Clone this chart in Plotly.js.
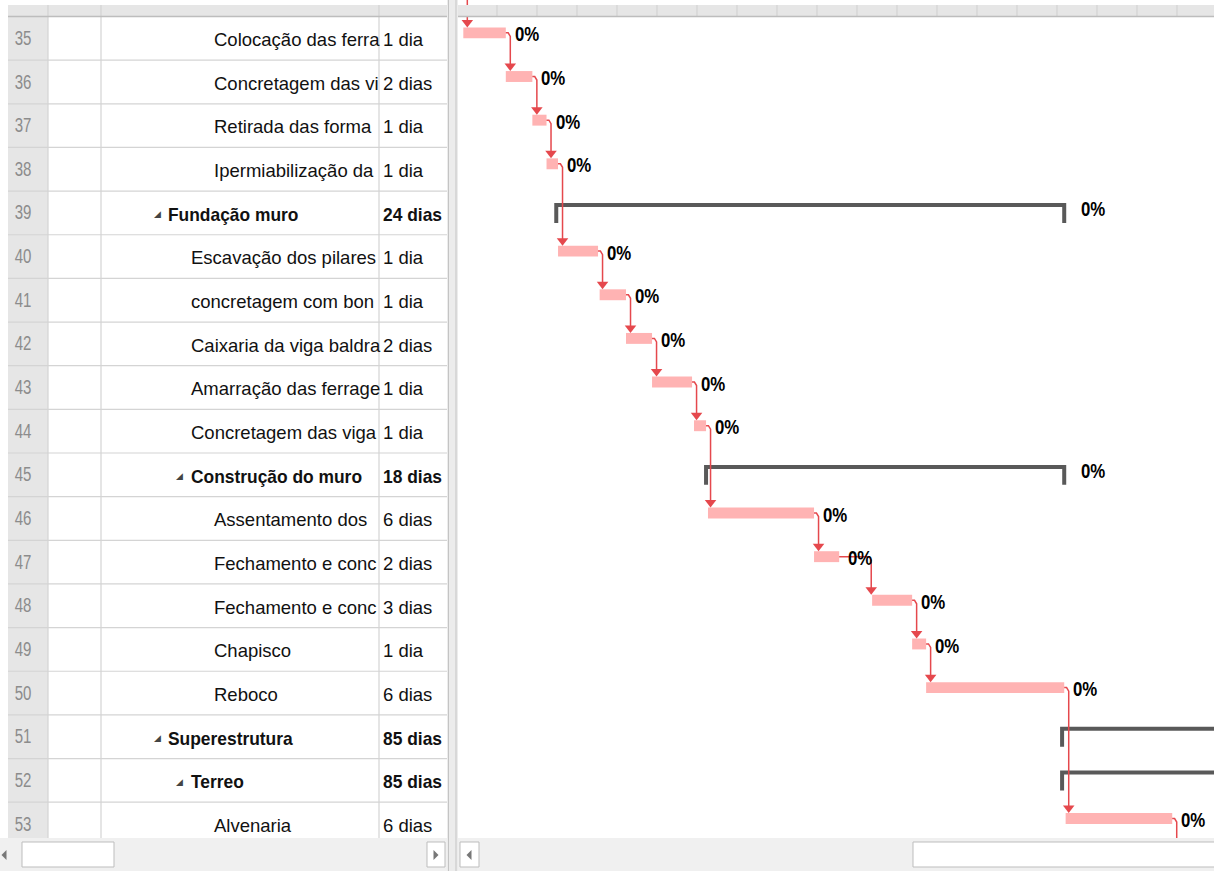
<!DOCTYPE html>
<html><head><meta charset="utf-8">
<script src="https://cdn.plot.ly/plotly-3.0.1.min.js"></script>
<style>html,body{margin:0;padding:0;background:#fff;overflow:hidden}#chart{width:1214px;height:871px}</style>
</head><body><div id="chart"></div>
<script>
// ---------------- data ----------------
const rowIds = [35,36,37,38,39,40,41,42,43,44,45,46,47,48,49,50,51,52,53];
const taskNames = ["Colocação das ferra","Concretagem das vi","Retirada das forma","Ipermiabilização da",
  "Fundação muro","Escavação dos pilares","concretagem com bon","Caixaria da viga baldra",
  "Amarração das ferrage","Concretagem das viga","Construção do muro","Assentamento dos",
  "Fechamento e conc","Fechamento e conc","Chapisco","Reboco","Superestrutura","Terreo","Alvenaria"];
const durations = ["1 dia","2 dias","1 dia","1 dia","24 dias","1 dia","1 dia","2 dias","1 dia","1 dia",
  "18 dias","6 dias","2 dias","3 dias","1 dia","6 dias","85 dias","85 dias","6 dias"];
const outlineLevel = [4,4,4,4,2,3,3,3,3,3,3,4,4,4,4,4,2,3,4];
const isSummary = [0,0,0,0,1,0,0,0,0,0,1,0,0,0,0,0,1,1,0];
// start / finish in days from the left edge of the visible timeline
const startDay  = [0.3,2.7,4.2,5.0,5.55,5.65,8.0,9.49,10.96,13.33,14.01,14.12,20.11,23.39,25.65,26.44,34.12,34.12,34.32];
const finishDay = [2.7,4.2,5.0,5.65,34.24,7.91,9.49,10.96,13.22,14.01,34.24,20.11,21.53,25.65,26.44,34.24,130,130,40.34];
const pctComplete = [0,0,0,0,0,0,0,0,0,0,0,0,0,0,0,0,0,0,0];
const links = [[35,36],[36,37],[37,38],[38,40],[40,41],[41,42],[42,43],[43,44],[44,46],
  [46,47],[47,48],[48,49],[49,50],[50,53]];
const timelineDays = 42.7;

// ---------------- layout helpers ----------------
const W = 1214, H = 871;
const ROW_PX = 43.65, ROW0 = 34.122;          // y value at top pixel
const px = x => x / W, py = y => 1 - y / H;
const FONT = "'Liberation Sans', Arial, sans-serif";
const BAR = '#FFB3B3', LINK = '#E5484D', SUMC = '#595959', GRID = '#D4D4D4';
const idx = r => rowIds.indexOf(r);

const shapes = [], annotations = [], squeeze = [];
function addText(a, k) { annotations.push(a); squeeze.push(k); }
function rectPx(x0, y0, x1, y1, fill, line, layer) {
  shapes.push({type:'rect', xref:'paper', yref:'paper', x0:px(x0), x1:px(x1), y0:py(y0), y1:py(y1),
    fillcolor:fill, line:line ? {color:line, width:1} : {width:0}, layer:layer || 'above'});
}
function linePx(x0, y0, x1, y1, color, w, layer) {
  shapes.push({type:'line', xref:'paper', yref:'paper', x0:px(x0), x1:px(x1), y0:py(y0), y1:py(y1),
    line:{color:color, width:w || 1}, layer:layer || 'above'});
}
function triPx(cx, cy, dir, size, color) {
  const s = size;
  let pts;
  if (dir === 'left') pts = [[cx + s/2, cy - s], [cx + s/2, cy + s], [cx - s/2, cy]];
  else pts = [[cx - s/2, cy - s], [cx - s/2, cy + s], [cx + s/2, cy]];
  const d = 'M' + pts.map(p => px(p[0]) + ',' + py(p[1])).join(' L') + ' Z';
  shapes.push({type:'path', xref:'paper', yref:'paper', path:d, fillcolor:color, line:{width:0}, layer:'above'});
}

// ---------------- table ----------------
const TABLE_L = 8, TABLE_R = 447, BODY_TOP = 17, BODY_BOT = 840;
rectPx(TABLE_L, BODY_TOP, 48, BODY_BOT, '#E6E6E6', null, 'below');
rowIds.forEach(r => {
  shapes.push({type:'line', xref:'paper', yref:'y', x0:px(TABLE_L), x1:px(TABLE_R), y0:r + 0.5, y1:r + 0.5,
    line:{color:GRID, width:1.2}, layer:'below'});
});
[48, 101, 379].forEach(x => linePx(x, 5, x, BODY_BOT, GRID, 1.2, 'below'));

const indentPx = {2:168, 3:190, 4:213};
const TXT = 18.5;
rowIds.forEach((r, i) => {
  const bold = !!isSummary[i];
  addText({xref:'paper', yref:'y', x:px(22.5), y:r - 0.01, text:String(r), showarrow:false, align:'center',
    xanchor:'center', yanchor:'middle', font:{family:FONT, size:20, color:'#8C8C8C'}}, 0.75);
  const tx = indentPx[outlineLevel[i]];
  addText({xref:'paper', yref:'y', x:px(tx - 1.5), y:r + 0.03, text:taskNames[i], showarrow:false, align:'left',
    xanchor:'left', yanchor:'middle', font:{family:FONT, size:TXT, color:'#111', weight: bold ? 'bold' : 'normal'}}, bold ? 0.94 : 1);
  if (bold) {
    addText({xref:'paper', yref:'y', x:px(tx - 16), y:r + 0.03, text:'◢', showarrow:false, align:'left',
      xanchor:'left', yanchor:'middle', font:{family:'DejaVu Sans', size:9, color:'#444'}}, 1);
  }
  addText({xref:'paper', yref:'y', x:px(381), y:r + 0.03, text:durations[i], showarrow:false, align:'left',
    xanchor:'left', yanchor:'middle', font:{family:FONT, size:TXT, color:'#111', weight: bold ? 'bold' : 'normal'}}, bold ? 0.94 : 1);
});

// headers
rectPx(TABLE_L, 5, TABLE_R, 16, '#E6E6E6');
[48, 101, 379].forEach(x => linePx(x, 5, x, 16, '#CFCFCF', 1));
rectPx(458, 5, W, 16, '#E6E6E6');
for (let x = 497; x < W; x += 40) linePx(x, 5, x, 16, '#CFCFCF', 1);
linePx(TABLE_L, 16.5, TABLE_R, 16.5, '#BDBDBD', 1.5);
linePx(458, 16.5, W, 16.5, '#BDBDBD', 1.5);
// divider
rectPx(447, 0, 458, H, '#ECECEC');
linePx(448.5, 0, 448.5, H, '#C4C4C4', 1);
linePx(456, 0, 456, H, '#C4C4C4', 1);
// scrollbars
rectPx(0, 838, 447, H, '#F0F0F0');
rectPx(458, 838, W, H, '#F0F0F0');
triPx(4, 855, 'left', 5, '#777');
rectPx(22, 842, 114, 867, '#FFFFFF', '#BDBDBD');
rectPx(427, 842, 445, 867, '#FFFFFF', '#BDBDBD');
triPx(436, 855, 'right', 5, '#777');
rectPx(460, 842, 479, 867, '#FFFFFF', '#BDBDBD');
triPx(469, 855, 'left', 5, '#777');
rectPx(913, 842, W + 2, 867, '#FFFFFF', '#BDBDBD');

// ---------------- gantt traces ----------------
const taskI = rowIds.map((r, i) => i).filter(i => !isSummary[i]);
const bars = {
  type:'bar', orientation:'h', xaxis:'x', yaxis:'y',
  y: taskI.map(i => rowIds[i] - 0.125),
  base: taskI.map(i => startDay[i]),
  x: taskI.map(i => finishDay[i] - startDay[i]),
  width: 0.25,
  marker:{color:BAR, line:{width:0}},
  hoverinfo:'skip', showlegend:false
};

const sx = [], sy = [];
rowIds.forEach((r, i) => {
  if (!isSummary[i]) return;
  sx.push(startDay[i], startDay[i], finishDay[i], finishDay[i], null);
  sy.push(r + 0.23, r - 0.18, r - 0.18, r + 0.23, null);
});
const summaries = {type:'scatter', mode:'lines', x:sx, y:sy, line:{color:SUMC, width:4},
  hoverinfo:'skip', showlegend:false};

const lx = [], ly = [], ax = [], ay = [];
const DAY_PX = (W - 458) / timelineDays;
links.forEach(([p, s]) => {
  const ip = idx(p), is = idx(s);
  const fe = finishDay[ip], ss = startDay[is];
  const yp = p - 0.125, ys = s - 0.25;
  const xv = (ss - fe > 0.5) ? ss - 0.05 : fe + 4.5 / DAY_PX;
  lx.push(fe, xv - 0.12, xv, xv, null);
  ly.push(yp, yp, yp + 0.08, ys - 0.12, null);
  ax.push(xv); ay.push(ys - 0.115);
});
// incoming link to first visible row, outgoing from last visible row
{
  const x0 = startDay[0] + 4 / DAY_PX;
  lx.push(x0, x0, null); ly.push(34.0, 34.75 - 0.12, null);
  ax.push(x0); ay.push(34.75 - 0.115);
  const iL = rowIds.length - 1, fe = finishDay[iL], yp = rowIds[iL] - 0.125, xv = fe + 4.5 / DAY_PX;
  lx.push(fe, xv - 0.12, xv, xv, null); ly.push(yp, yp, yp + 0.08, 54.5, null);
}
const linkLines = {type:'scatter', mode:'lines', x:lx, y:ly, line:{color:LINK, width:1.5},
  hoverinfo:'skip', showlegend:false};
const arrows = {type:'scatter', mode:'markers', x:ax, y:ay,
  marker:{symbol:'triangle-down', size:10, color:LINK, line:{width:0}}, hoverinfo:'skip', showlegend:false};

// percent labels
rowIds.forEach((r, i) => {
  if (finishDay[i] > timelineDays) return;
  const off = isSummary[i] ? 15 / DAY_PX : 7 / DAY_PX;
  addText({xref:'x', yref:'y', x:finishDay[i] + off, y:r - 0.1, text:pctComplete[i] + '%',
    showarrow:false, xanchor:'left', yanchor:'middle', align:'left',
    font:{family:FONT, size:21, color:'#000', weight:'bold'}}, 0.8);
});

const layout = {
  width:W, height:H, margin:{l:0, r:0, t:0, b:0}, paper_bgcolor:'#fff', plot_bgcolor:'rgba(0,0,0,0)',
  showlegend:false, barmode:'overlay',
  xaxis:{domain:[458 / W, 1], range:[0, timelineDays], visible:false, fixedrange:true},
  yaxis:{domain:[0, 1], range:[ROW0 + H / ROW_PX, ROW0], visible:false, fixedrange:true},
  shapes:shapes, annotations:annotations
};
Plotly.newPlot('chart', [bars, summaries, linkLines, arrows], layout, {displayModeBar:false, staticPlot:true})
  .then(gd => {
    // condense some texts horizontally, like the narrow UI font of the original
    const texts = gd.querySelectorAll('.annotation-text');
    texts.forEach((t, i) => {
      const k = squeeze[i] == null ? 1 : squeeze[i];
      if (k === 1) return;
      const w = t.getComputedTextLength();
      const delta = w * (1 - k);
      t.setAttribute('textLength', (w * k).toFixed(1));
      t.setAttribute('lengthAdjust', 'spacingAndGlyphs');
      const bg = t.parentNode && t.parentNode.querySelector('rect.bg');
      if (bg) {
        const bw = parseFloat(bg.getAttribute('width')) || 0;
        const bx = parseFloat(bg.getAttribute('x')) || 0;
        if (annotations[i].align === 'center') bg.setAttribute('x', (bx + delta / 2).toFixed(1));
        bg.setAttribute('width', Math.max(0, bw - delta).toFixed(1));
      }
    });
  });
</script></body></html>
